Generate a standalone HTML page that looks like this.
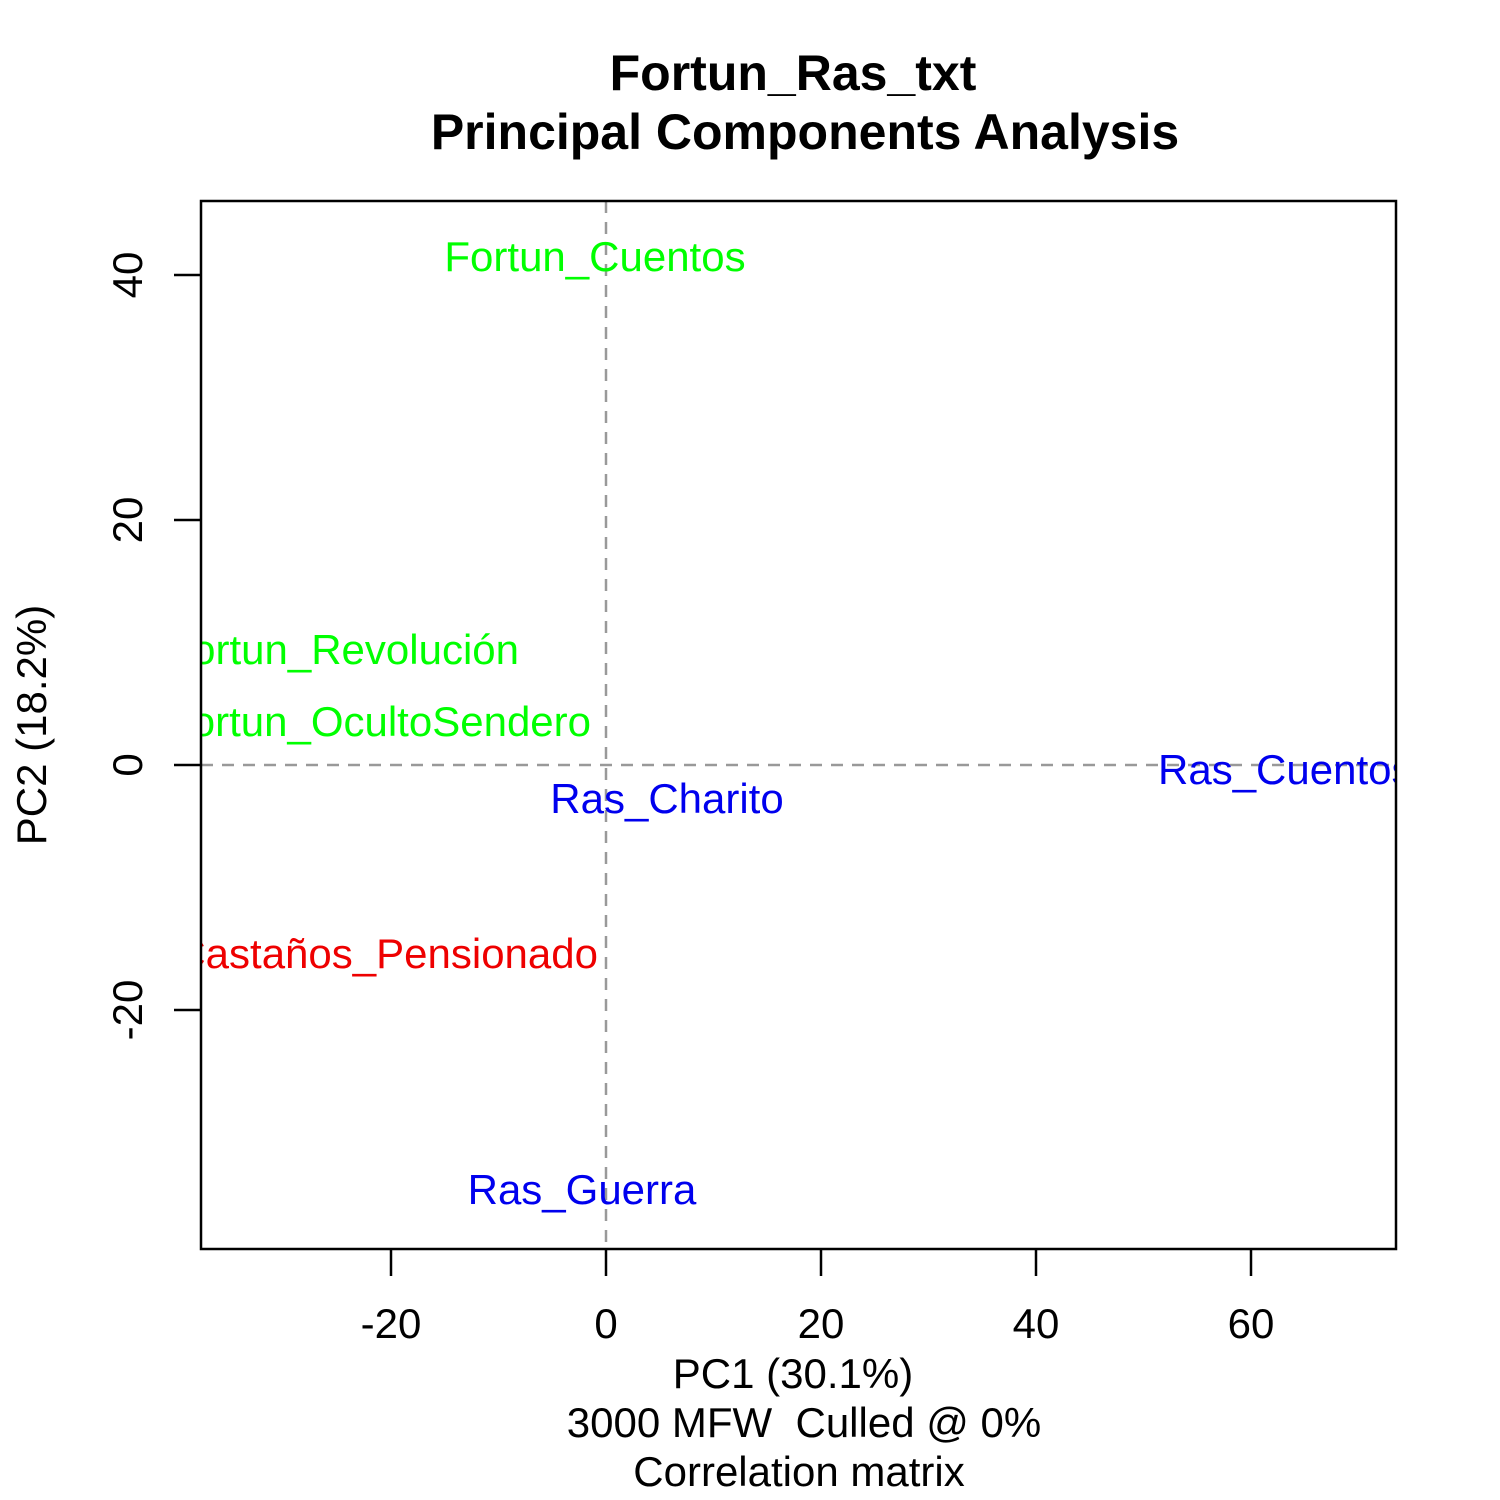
<!DOCTYPE html>
<html><head><meta charset="utf-8"><style>body{margin:0;background:#fff}svg{display:block}</style></head><body>
<svg width="1500" height="1500" xmlns="http://www.w3.org/2000/svg" font-family="Liberation Sans, Arial, sans-serif">
<defs><clipPath id="c"><rect x="201" y="201" width="1195" height="1048"/></clipPath></defs>
<text x="793" y="90" font-size="50" font-weight="bold" text-anchor="middle">Fortun_Ras_txt</text>
<text x="805" y="149" font-size="50" font-weight="bold" text-anchor="middle">Principal Components Analysis</text>
<g stroke="#999" stroke-width="2.5" stroke-dasharray="12,9">
<line x1="606" y1="201" x2="606" y2="1249"/><line x1="201" y1="765" x2="1396" y2="765"/></g>
<g clip-path="url(#c)" font-size="42">
<text x="595" y="271" fill="#00ff00" text-anchor="middle">Fortun_Cuentos</text>
<text x="519" y="664" fill="#00ff00" text-anchor="end">Fortun_Revolución</text>
<text x="591" y="736" fill="#00ff00" text-anchor="end">Fortun_OcultoSendero</text>
<text x="598" y="968" fill="#ee0000" text-anchor="end">Castaños_Pensionado</text>
<text x="667" y="813" fill="#0000ee" text-anchor="middle">Ras_Charito</text>
<text x="1158" y="784" fill="#0000ee">Ras_Cuentos</text>
<text x="582" y="1204" fill="#0000ee" text-anchor="middle">Ras_Guerra</text>
</g>
<rect x="201" y="201" width="1195" height="1048" fill="none" stroke="#000" stroke-width="2.5"/>
<g stroke="#000" stroke-width="2.5">
<line x1="391" y1="1249" x2="391" y2="1276"/><line x1="606" y1="1249" x2="606" y2="1276"/><line x1="821" y1="1249" x2="821" y2="1276"/><line x1="1036" y1="1249" x2="1036" y2="1276"/><line x1="1251" y1="1249" x2="1251" y2="1276"/>
<line x1="174" y1="275" x2="201" y2="275"/><line x1="174" y1="520" x2="201" y2="520"/><line x1="174" y1="765" x2="201" y2="765"/><line x1="174" y1="1010" x2="201" y2="1010"/>
</g>
<g font-size="42" text-anchor="middle">
<text x="391" y="1338">-20</text><text x="606" y="1338">0</text><text x="821" y="1338">20</text><text x="1036" y="1338">40</text><text x="1251" y="1338">60</text>
<text transform="translate(142,275) rotate(-90)">40</text>
<text transform="translate(142,520) rotate(-90)">20</text>
<text transform="translate(142,765) rotate(-90)">0</text>
<text transform="translate(142,1010) rotate(-90)">-20</text>
<text x="793" y="1388">PC1 (30.1%)</text>
<text x="804" y="1437" style="white-space:pre">3000 MFW  Culled @ 0%</text>
<text x="799" y="1486">Correlation matrix</text>
<text transform="translate(46,725) rotate(-90)">PC2 (18.2%)</text>
</g>
</svg>
</body></html>
